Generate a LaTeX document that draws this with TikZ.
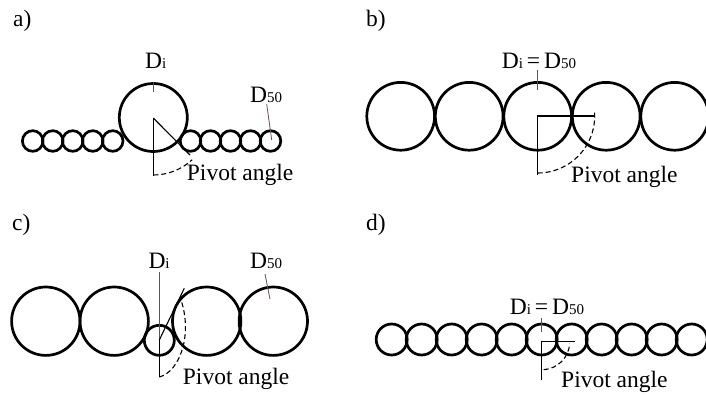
\documentclass[tikz,border=0pt]{standalone}
\usepackage{fontspec}
\setmainfont{Liberation Serif}
\definecolor{leadcol}{RGB}{105,80,75}
\newcommand\subtxt[1]{{\fontsize{15}{15}\selectfont #1}}
\begin{document}
\begin{tikzpicture}[x=1pt,y=-1pt,
  grain/.style={line width=2.7pt},
  piv/.style={line width=1.1pt},
  pivdash/.style={line width=1.1pt, dash pattern=on 5pt off 3pt},
  lead/.style={line width=0.8pt, draw=leadcol},
  lbl/.style={inner sep=0pt, anchor=base west, font=\fontsize{23.5}{23.5}\selectfont}]
\useasboundingbox (0,0) rectangle (706,394);

% ---------- panel a ----------
\node[lbl] (la) at (13,26) {a)};
\foreach \x in {32.7,52.7,72.7,92.7,112.7,190.5,210.5,230.5,250.5,270.5}
  \draw[grain] (\x,141) circle[radius=10.3];
\draw[grain] (153.3,117.5) circle[radius=34];
\coordinate (ca) at (153.3,118);
\coordinate (cab) at (153.3,176);
\coordinate (cad) at (190,155);
\draw[piv] (ca) -- (cab);
\draw[piv] (ca) -- (cad);
\draw[pivdash] (153.3,175) arc[start angle=90, end angle=47, radius=57];
\node[lbl] (dia) at (145,68) {D\subtxt{i}};
\coordinate (tia1) at (153.3,82);
\coordinate (tia2) at (153.3,92);
\draw[lead] (tia1) -- (tia2);
\node[lbl] (d50a) at (250,102) {D\subtxt{50}};
\coordinate (t5a1) at (266.7,104);
\coordinate (t5a2) at (271.7,140);
\draw[lead] (t5a1) -- (t5a2);
\node[lbl] (pa) at (186.7,180) {Pivot angle};

% ---------- panel b ----------
\node[lbl] (lb) at (366,26) {b)};
\foreach \x in {400.7,469.2,537.7,606.2,674.7}
  \draw[grain] (\x,116.3) circle[radius=33.9];
\coordinate (cb) at (537.7,116);
\coordinate (cbb) at (537.7,175);
\coordinate (cbr) at (594,116);
\draw[piv] (cbb) -- (cb) -- (cbr);
\draw[pivdash] (537.7,173) arc[start angle=90, end angle=-4, radius=57];
\node[lbl] (dib) at (501.7,68.3) {D\subtxt{i}\,=\,D\subtxt{50}};
\coordinate (tb1) at (537.7,70);
\coordinate (tb2) at (537.7,90);
\draw[lead] (tb1) -- (tb2);
\node[lbl] (pb) at (571,182) {Pivot angle};

% ---------- panel c ----------
\node[lbl] (lc) at (12,230) {c)};
\foreach \x in {45.8,114.2,206.7,273.3}
  \draw[grain] (\x,321.2) circle[radius=34.2];
\draw[grain] (159.3,340.3) circle[radius=15];
\coordinate (cc) at (159.3,340);
\coordinate (ccb) at (159.3,377);
\coordinate (cct) at (184.3,288.3);
\coordinate (ccl) at (159.3,272);
\draw[lead] (ccl) -- (cc);
\draw[piv] (cc) -- (ccb);
\draw[piv] (cc) -- (cct);
\draw[pivdash] (ccb) .. controls (179,372) and (193,336) .. (181,300);
\node[lbl] (dic) at (148.3,268) {D\subtxt{i}};
\node[lbl] (d50c) at (250,268) {D\subtxt{50}};
\coordinate (t5c1) at (265,274);
\coordinate (t5c2) at (270,299);
\draw[lead] (t5c1) -- (t5c2);
\node[lbl] (pc) at (182.7,384) {Pivot angle};

% ---------- panel d ----------
\node[lbl] (ld) at (366,230) {d)};
\foreach \k in {0,...,10}
  \draw[grain] (391.7+30*\k,339.5) circle[radius=15.5];
\coordinate (cd) at (541.7,341.7);
\coordinate (cdb) at (541.7,380);
\coordinate (cdr) at (575,341.7);
\draw[piv] (cdb) -- (cd) -- (cdr);
\draw[pivdash] (543.7,369.7) arc[start angle=86, end angle=4, radius=28];
\node[lbl] (did) at (509.7,314) {D\subtxt{i}\,=\,D\subtxt{50}};
\coordinate (td1) at (541.7,318);
\coordinate (td2) at (541.7,332);
\draw[lead] (td1) -- (td2);
\node[lbl] (pd) at (561,387) {Pivot angle};
\end{tikzpicture}
\end{document}
